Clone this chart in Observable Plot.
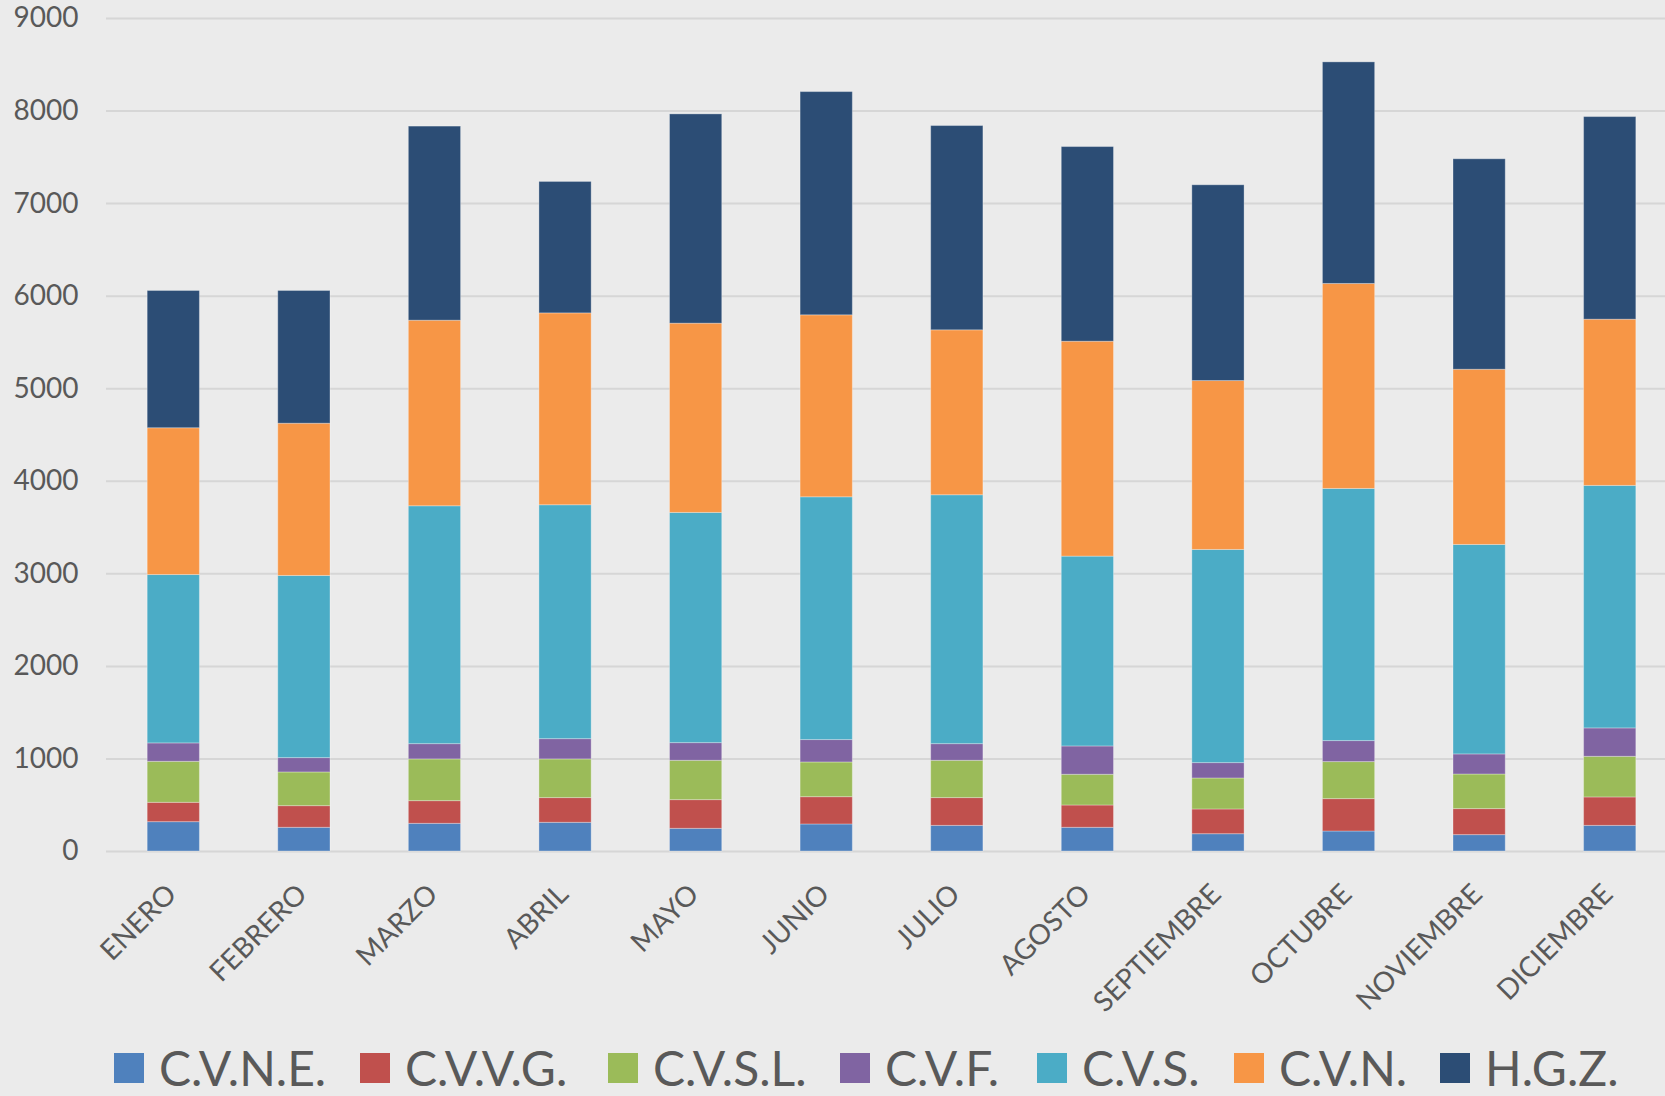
<!DOCTYPE html>
<html><head><meta charset="utf-8">
<script src="https://cdn.jsdelivr.net/npm/d3@7"></script>
<script src="https://cdn.jsdelivr.net/npm/@observablehq/plot@0.6"></script>
<style>
html,body{margin:0;padding:0;background:#EBEBEB;}
body{width:1665px;height:1096px;overflow:hidden;font-family:Lato,"Open Sans",sans-serif;}
#chart svg{display:block;}
#legend{position:relative;height:56px;color:#595959;font-size:48px;line-height:1;}
.item{position:absolute;top:0;height:56px;display:flex;align-items:center;white-space:nowrap;}
.sw{width:30px;height:30px;margin-right:15px;}
</style></head><body><div id="chart"></div><div id="legend"></div>
<script>
const months = ["ENERO","FEBRERO","MARZO","ABRIL","MAYO","JUNIO","JULIO","AGOSTO","SEPTIEMBRE","OCTUBRE","NOVIEMBRE","DICIEMBRE"];
const seriesNames = ["C.V.N.E.","C.V.V.G.","C.V.S.L.","C.V.F.","C.V.S.","C.V.N.","H.G.Z."];
const seriesColors = ["#4F81BD","#C0504D","#9BBB59","#8064A2","#4BACC6","#F79646","#2C4D75"];
const cvne = [317,256,299,310,245,292,277,256,187,216,177,277];
const cvvg = [209,234,245,267,310,295,300,241,267,350,281,307];
const cvsl = [443,364,451,418,425,375,403,332,335,400,374,439];
const cvf  = [199,155,165,219,191,242,180,306,166,227,217,307];
const cvs  = [1819,1968,2570,2527,2487,2623,2689,2051,2303,2724,2263,2620];
const cvn  = [1586,1645,2005,2073,2045,1966,1782,2322,1825,2215,1893,1796];
const hgz  = [1483,1434,2097,1420,2261,2412,2207,2103,2115,2394,2274,2189];
const yTicks = [0,1000,2000,3000,4000,5000,6000,7000,8000,9000];

const seriesValues = [cvne, cvvg, cvsl, cvf, cvs, cvn, hgz];
const data = [];
seriesNames.forEach((s, i) => months.forEach((m, j) => data.push({series: s, month: m, value: seriesValues[i][j]})));

const chart = Plot.plot({
  width: 1665, height: 1040,
  marginTop: 18, marginBottom: 189, marginLeft: 106, marginRight: 0,
  style: {background: "#EBEBEB", fontFamily: "Lato, 'Open Sans', sans-serif", fontSize: "28px", color: "#595959"},
  x: {domain: months, range: [108, 1675], paddingInner: 0.6, paddingOuter: 0.3, round: false, label: null},
  y: {domain: [0, 9000], label: null},
  color: {domain: seriesNames, range: seriesColors},
  marks: [
    Plot.gridY(yTicks, {stroke: "#D6D6D6", strokeOpacity: 1, strokeWidth: 2}),
    Plot.barY(data, {x: "month", y: "value", fill: "series", stroke: "#ffffff", strokeOpacity: 0.3, strokeWidth: 1}),
    Plot.axisY(yTicks, {tickSize: 0, tickPadding: 28, tickFormat: d3.format("d"), label: null, fill: "#595959"}),
    Plot.axisX({tickSize: 0, tickPadding: 38, dx: -2, tickRotate: -45, label: null, fill: "#595959"})
  ]
});
document.getElementById("chart").appendChild(chart);

const legendLeft = [114, 360, 608, 840, 1037, 1234, 1440];
const legend = document.getElementById("legend");
seriesNames.forEach((s, i) => {
  const item = document.createElement("div");
  item.className = "item";
  item.style.left = legendLeft[i] + "px";
  const sw = document.createElement("div");
  sw.className = "sw";
  sw.style.background = seriesColors[i];
  const t = document.createElement("span");
  t.textContent = s;
  item.appendChild(sw); item.appendChild(t);
  legend.appendChild(item);
});
</script></body></html>
